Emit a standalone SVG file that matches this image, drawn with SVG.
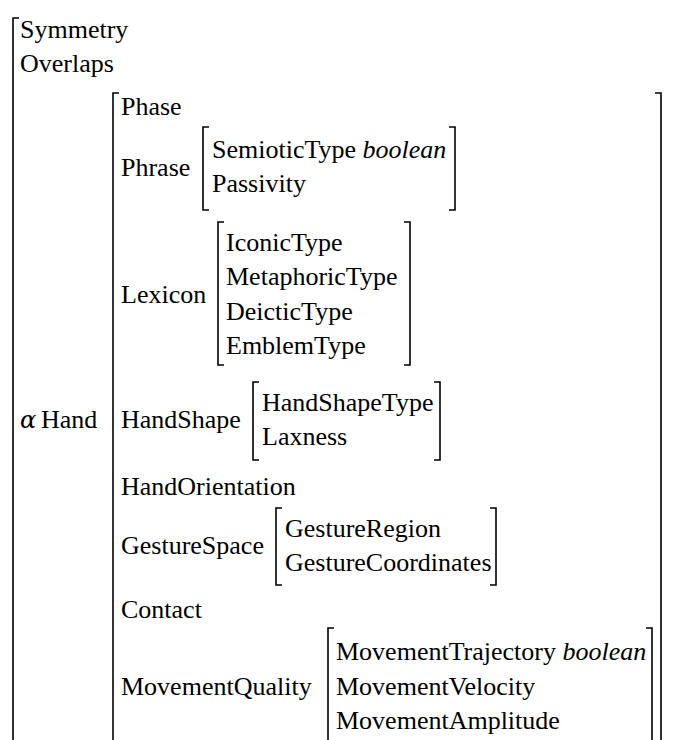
<svg xmlns="http://www.w3.org/2000/svg" width="675" height="740" viewBox="0 0 675 740">
<rect width="675" height="740" fill="#fff"/>
<g id="brackets" fill="none" stroke="#000" stroke-width="1.6">
<path d="M19,18 H13 V745"/>
<path d="M119,93 H113 V745"/>
<path d="M655,93 H661 V745"/>
<path d="M209,127 H203 V210 H209"/>
<path d="M449,127 H455 V210 H449"/>
<path d="M224,222 H218 V365 H224"/>
<path d="M404,222 H410 V365 H404"/>
<path d="M259,382 H253 V460 H259"/>
<path d="M434,382 H440 V460 H434"/>
<path d="M282,508 H276 V585 H282"/>
<path d="M490,508 H496 V585 H490"/>
<path d="M334,628 H328 V745"/>
<path d="M646,628 H652 V745"/>
</g>
<text x="20" y="38" font-family="Liberation Serif" font-size="26">Symmetry</text>
<text x="20" y="72" font-family="Liberation Serif" font-size="26">Overlaps</text>
<text x="20" y="428" font-family="DejaVu Serif, Liberation Serif, serif" font-size="24" font-style="italic">α</text>
<text x="41" y="428" font-family="Liberation Serif" font-size="26">Hand</text>
<text x="121" y="115" font-family="Liberation Serif" font-size="26">Phase</text>
<text x="121" y="176" font-family="Liberation Serif" font-size="26">Phrase</text>
<text x="212" y="158" font-family="Liberation Serif" font-size="26">SemioticType <tspan font-style="italic">boolean</tspan></text>
<text x="212" y="192" font-family="Liberation Serif" font-size="26">Passivity</text>
<text x="121" y="303" font-family="Liberation Serif" font-size="26">Lexicon</text>
<text x="226" y="251" font-family="Liberation Serif" font-size="26">IconicType</text>
<text x="226" y="285" font-family="Liberation Serif" font-size="26">MetaphoricType</text>
<text x="226" y="320" font-family="Liberation Serif" font-size="26">DeicticType</text>
<text x="226" y="354" font-family="Liberation Serif" font-size="26">EmblemType</text>
<text x="121" y="428" font-family="Liberation Serif" font-size="26">HandShape</text>
<text x="262" y="411" font-family="Liberation Serif" font-size="26">HandShapeType</text>
<text x="262" y="445" font-family="Liberation Serif" font-size="26">Laxness</text>
<text x="121" y="495" font-family="Liberation Serif" font-size="26">HandOrientation</text>
<text x="121" y="554" font-family="Liberation Serif" font-size="26">GestureSpace</text>
<text x="285" y="537" font-family="Liberation Serif" font-size="26">GestureRegion</text>
<text x="285" y="571" font-family="Liberation Serif" font-size="26">GestureCoordinates</text>
<text x="121" y="618" font-family="Liberation Serif" font-size="26">Contact</text>
<text x="121" y="695" font-family="Liberation Serif" font-size="26">MovementQuality</text>
<text x="336" y="660" font-family="Liberation Serif" font-size="26">MovementTrajectory <tspan font-style="italic">boolean</tspan></text>
<text x="336" y="695" font-family="Liberation Serif" font-size="26">MovementVelocity</text>
<text x="336" y="729" font-family="Liberation Serif" font-size="26">MovementAmplitude</text>
</svg>
